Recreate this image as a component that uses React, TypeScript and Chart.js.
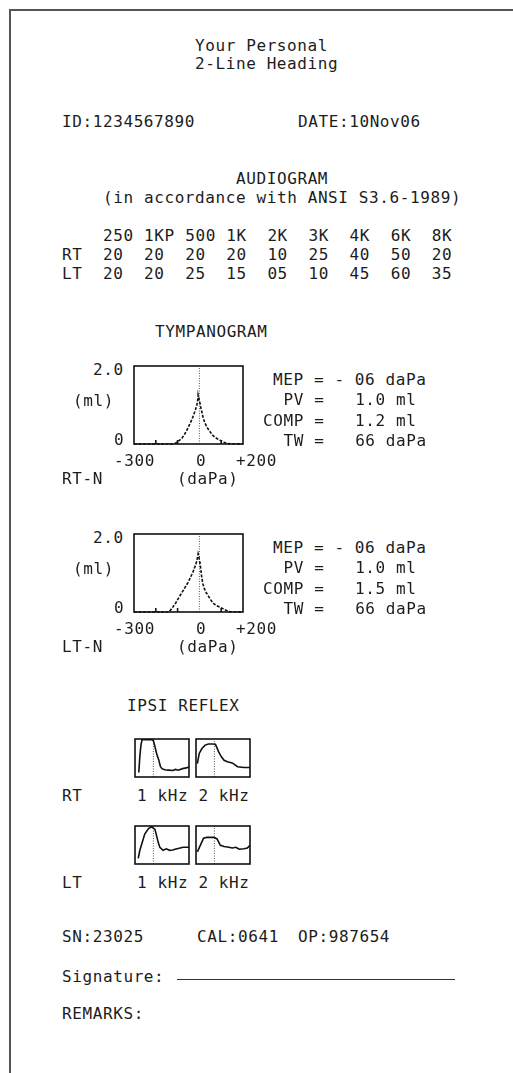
import React, { useEffect, useRef } from "react";
import { Chart, registerables } from "chart.js";
Chart.register(...registerables);

// ---------------- data ----------------
const HEADING = ["Your Personal", "2-Line Heading"];
const PATIENT_ID = "1234567890";
const TEST_DATE = "10Nov06";
const AUDIO_TITLE = "AUDIOGRAM";
const AUDIO_SUBTITLE = "(in accordance with ANSI S3.6-1989)";
const AUDIO_FREQS = ["250", "1KP", "500", "1K", "2K", "3K", "4K", "6K", "8K"];
const AUDIO_RT = [20, 20, 20, 20, 10, 25, 40, 50, 20];
const AUDIO_LT = [20, 20, 25, 15, 5, 10, 45, 60, 35];

const TYMP_X_TICKS = [-300, 0, 200];
const TYMP_X_TICK_LABELS = ["-300", "0", "+200"];
const TYMP_MINOR_TICKS = [-200, -100, 100];
const TYMP_Y_TICK_LABELS = ["2.0", "0"];
const TYMP_Y_MIN = 0;
const TYMP_Y_MAX = 2;

const RT_TYMP_P = [-300, -200, -125, -110, -95, -80, -68, -57, -46, -35, -26, -18, -12, -8, -6, -3, 0, 3, 7, 12, 18, 25, 36, 48, 60, 72, 86, 100, 115, 130, 200];
const RT_TYMP_V = [0, 0, 0, 0.02, 0.08, 0.15, 0.25, 0.36, 0.49, 0.62, 0.75, 0.88, 1.0, 1.12, 1.26, 1.18, 1.1, 1.04, 0.92, 0.8, 0.66, 0.54, 0.42, 0.32, 0.23, 0.17, 0.12, 0.08, 0.04, 0.01, 0];
const LT_TYMP_P = [-300, -200, -140, -128, -112, -95, -80, -66, -52, -40, -30, -20, -12, -6, -2, 2, 6, 10, 16, 24, 33, 42, 52, 64, 80, 96, 110, 120, 135, 200];
const LT_TYMP_V = [0, 0, 0, 0.08, 0.2, 0.36, 0.5, 0.63, 0.76, 0.9, 1.02, 1.17, 1.3, 1.49, 1.4, 1.28, 1.12, 0.92, 0.72, 0.58, 0.48, 0.4, 0.31, 0.22, 0.16, 0.12, 0.08, 0.05, 0.01, 0];

const TYMP_STAT_NAMES = ["MEP", "PV", "COMP", "TW"];
const RT_TYMP_STATS = [-6, 1.0, 1.2, 66];
const LT_TYMP_STATS = [-6, 1.0, 1.5, 66];

const REFLEX_TITLE = "IPSI REFLEX";
const REFLEX_FREQS = ["1 kHz", "2 kHz"];
const REFLEX_ONSET = 34;
const RT_1K_T = [7, 9, 11, 13, 20, 31, 34, 37, 40, 44, 47, 50, 55, 62, 70, 75, 80, 88, 95, 100];
const RT_1K_V = [12, 55, 84, 98, 98, 98, 96, 80, 62, 45, 28, 22, 19, 18, 17, 20, 18, 22, 24, 27];
const RT_2K_T = [2.5, 6, 11, 17, 23, 30, 36, 42, 47, 52, 58, 67, 77, 89, 100];
const RT_2K_V = [35, 62, 75, 84, 87, 87, 86, 66, 53, 44, 40, 37, 27, 25, 25];
const LT_1K_T = [6, 9, 13.5, 18, 25, 31, 37, 40, 43, 46, 52, 58, 64, 70, 74, 80, 89, 100];
const LT_1K_V = [15, 36, 57, 79, 93, 98, 91, 74, 57, 44, 36, 40, 36, 37, 39, 41, 44, 44];
const LT_2K_T = [2.5, 8, 14, 20, 33, 39, 45, 52, 61, 67, 74, 80, 89, 95, 100];
const LT_2K_V = [32, 49, 68, 70, 70, 66, 49, 46, 44, 42, 44, 39, 40, 42, 49];

const SERIAL_NO = "23025";
const CAL_NO = "0641";
const OPERATOR = "987654";

// ---------------- helpers ----------------
const FONT = '"DejaVu Sans Mono", monospace';
const INK = "#1c1c1c";
const PAD = 3;

function Txt({ x, y, children }: { x: number; y: number; children: any }) {
  return (
    <div
      style={{
        position: "absolute",
        left: x,
        top: y - 8,
        fontFamily: FONT,
        fontSize: 16,
        lineHeight: "16px",
        letterSpacing: "0.6px",
        whiteSpace: "pre",
        color: INK,
      }}
    >
      {children}
    </div>
  );
}

const framePlugin = {
  id: "frame",
  afterDatasetsDraw(chart: any, _args: any, opts: any) {
    const { ctx, chartArea: a, scales } = chart;
    ctx.save();
    ctx.strokeStyle = "#111";
    ctx.lineWidth = 1.6;
    ctx.strokeRect(a.left, a.top, a.right - a.left, a.bottom - a.top);
    ((opts && opts.minorTicks) || []).forEach((v: number) => {
      const px = scales.x.getPixelForValue(v);
      ctx.beginPath();
      ctx.moveTo(px, a.bottom);
      ctx.lineTo(px, a.bottom - 4);
      ctx.stroke();
    });
    ctx.restore();
  },
};

function baseOptions(xMin: number, xMax: number, yMin: number, yMax: number, minorTicks: number[]) {
  return {
    animation: false,
    responsive: false,
    events: [],
    layout: { padding: PAD },
    plugins: {
      legend: { display: false },
      tooltip: { enabled: false },
      frame: { minorTicks },
    },
    scales: {
      x: { type: "linear", min: xMin, max: xMax, display: false },
      y: { type: "linear", min: yMin, max: yMax, display: false },
    },
  };
}

function tympConfig(P: number[], V: number[]) {
  const zero = TYMP_X_TICKS[1];
  return {
    type: "line",
    data: {
      datasets: [
        {
          data: P.map((p, i) => ({ x: p, y: V[i] })),
          borderColor: "#111",
          borderWidth: 1.6,
          borderDash: [3, 1.5],
          pointRadius: 0,
          tension: 0,
          clip: 6,
        },
        {
          data: [
            { x: zero, y: TYMP_Y_MIN },
            { x: zero, y: TYMP_Y_MAX },
          ],
          borderColor: "#555",
          borderWidth: 1,
          borderDash: [1, 1.5],
          pointRadius: 0,
          clip: 6,
        },
      ],
    },
    options: baseOptions(TYMP_X_TICKS[0], TYMP_X_TICKS[2], TYMP_Y_MIN, TYMP_Y_MAX, TYMP_MINOR_TICKS),
    plugins: [framePlugin],
  };
}

function reflexConfig(T: number[], V: number[]) {
  return {
    type: "line",
    data: {
      datasets: [
        {
          data: T.map((t, i) => ({ x: t, y: V[i] })),
          borderColor: "#111",
          borderWidth: 1.6,
          pointRadius: 0,
          tension: 0,
          clip: 6,
        },
        {
          data: [
            { x: REFLEX_ONSET, y: 0 },
            { x: REFLEX_ONSET, y: 100 },
          ],
          borderColor: "#555",
          borderWidth: 1,
          borderDash: [1, 1.5],
          pointRadius: 0,
          clip: 6,
        },
      ],
    },
    options: baseOptions(0, 100, 0, 100, []),
    plugins: [framePlugin],
  };
}

function MiniChart({ left, top, width, height, make }: { left: number; top: number; width: number; height: number; make: () => any }) {
  const ref = useRef<HTMLCanvasElement>(null);
  useEffect(() => {
    const chart = new Chart(ref.current as HTMLCanvasElement, make());
    return () => chart.destroy();
  }, []);
  const w = width + 2 * PAD;
  const h = height + 2 * PAD;
  return (
    <canvas
      ref={ref}
      width={w}
      height={h}
      style={{ position: "absolute", left: left - PAD, top: top - PAD, width: w, height: h }}
    />
  );
}

function TympBlock({ top, P, V, stats, side }: { top: number; P: number[]; V: number[]; stats: number[]; side: string }) {
  const boxL = 134;
  const boxW = 109;
  const boxH = 78;
  const statX = [273, 283.5, 263, 283.5];
  const fmt = [
    (v: number) => `${TYMP_STAT_NAMES[0]} = ${v < 0 ? "-" : "+"} ${String(Math.abs(v)).padStart(2, "0")} daPa`,
    (v: number) => `${TYMP_STAT_NAMES[1]} =   ${v.toFixed(1)} ml`,
    (v: number) => `${TYMP_STAT_NAMES[2]} =   ${v.toFixed(1)} ml`,
    (v: number) => `${TYMP_STAT_NAMES[3]} =   ${v} daPa`,
  ];
  const tickX = [114, 196, 236];
  return (
    <>
      <MiniChart left={boxL} top={top} width={boxW} height={boxH} make={() => tympConfig(P, V)} />
      <Txt x={93} y={top + 4}>{TYMP_Y_TICK_LABELS[0]}</Txt>
      <Txt x={73} y={top + 35}>(ml)</Txt>
      <Txt x={114} y={top + 74}>{TYMP_Y_TICK_LABELS[1]}</Txt>
      {TYMP_X_TICK_LABELS.map((l, i) => (
        <Txt key={l} x={tickX[i]} y={top + 95}>{l}</Txt>
      ))}
      <Txt x={62} y={top + 113}>{side}-N</Txt>
      <Txt x={177} y={top + 113}>(daPa)</Txt>
      {stats.map((v, i) => (
        <Txt key={i} x={statX[i]} y={top + 14 + i * 20.3}>{fmt[i](v)}</Txt>
      ))}
    </>
  );
}

function ReflexRow({ top, side, curves }: { top: number; side: string; curves: [number[], number[]][] }) {
  const lefts = [135, 196];
  return (
    <>
      {curves.map(([T, V], i) => (
        <MiniChart key={i} left={lefts[i]} top={top} width={54} height={38} make={() => reflexConfig(T, V)} />
      ))}
      <Txt x={62} y={top + 57}>{side}</Txt>
      <Txt x={137} y={top + 57}>{REFLEX_FREQS.join(" ")}</Txt>
    </>
  );
}

export default function App() {
  const colX = (i: number) => 103 + i * 41.1;
  return (
    <div style={{ position: "absolute", left: 0, top: 0, width: 513, height: 1073, background: "#fff", overflow: "hidden" }}>
      <div style={{ position: "absolute", left: 9, top: 9, width: 2, height: 1064, background: "#555" }} />
      <div style={{ position: "absolute", left: 9, top: 9, width: 504, height: 2, background: "#555" }} />
      <Txt x={195} y={46}>{HEADING[0]}</Txt>
      <Txt x={195} y={64}>{HEADING[1]}</Txt>
      <Txt x={62} y={122}>ID:{PATIENT_ID}</Txt>
      <Txt x={298} y={122}>DATE:{TEST_DATE}</Txt>
      <Txt x={236} y={179}>{AUDIO_TITLE}</Txt>
      <Txt x={103} y={198}>{AUDIO_SUBTITLE}</Txt>
      {AUDIO_FREQS.map((f, i) => (
        <Txt key={"f" + i} x={colX(i)} y={236}>{f}</Txt>
      ))}
      <Txt x={62} y={255}>RT</Txt>
      {AUDIO_RT.map((v, i) => (
        <Txt key={"r" + i} x={colX(i)} y={255}>{String(v).padStart(2, "0")}</Txt>
      ))}
      <Txt x={62} y={274}>LT</Txt>
      {AUDIO_LT.map((v, i) => (
        <Txt key={"l" + i} x={colX(i)} y={274}>{String(v).padStart(2, "0")}</Txt>
      ))}

      <Txt x={155} y={332}>TYMPANOGRAM</Txt>
      <TympBlock top={366} P={RT_TYMP_P} V={RT_TYMP_V} stats={RT_TYMP_STATS} side="RT" />
      <TympBlock top={534} P={LT_TYMP_P} V={LT_TYMP_V} stats={LT_TYMP_STATS} side="LT" />

      <Txt x={127} y={706}>{REFLEX_TITLE}</Txt>
      <ReflexRow top={739} side="RT" curves={[[RT_1K_T, RT_1K_V], [RT_2K_T, RT_2K_V]]} />
      <ReflexRow top={826} side="LT" curves={[[LT_1K_T, LT_1K_V], [LT_2K_T, LT_2K_V]]} />

      <Txt x={62} y={937}>SN:{SERIAL_NO}</Txt>
      <Txt x={197} y={937}>CAL:{CAL_NO}</Txt>
      <Txt x={298} y={937}>OP:{OPERATOR}</Txt>
      <Txt x={62} y={977}>Signature:</Txt>
      <div style={{ position: "absolute", left: 177, top: 979, width: 278, height: 0, borderTop: "1.5px solid #333" }} />
      <Txt x={62} y={1014}>REMARKS:</Txt>
    </div>
  );
}
